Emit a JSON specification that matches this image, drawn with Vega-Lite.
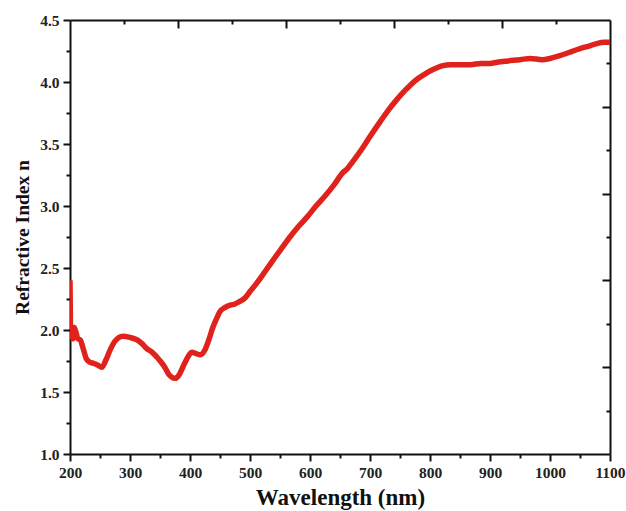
{
  "$schema": "https://vega.github.io/schema/vega-lite/v6.json",
  "width": 540,
  "height": 434,
  "autosize": "none",
  "padding": {"left": 70, "top": 20, "right": 16, "bottom": 57},
  "background": "white",
  "config": {
    "view": {"stroke": null},
    "axis": {
      "labelFont": "Liberation Serif",
      "titleFont": "Liberation Serif",
      "labelFontWeight": "bold",
      "titleFontWeight": "bold",
      "labelColor": "#222",
      "titleColor": "#111",
      "domainColor": "#111",
      "tickColor": "#111",
      "domainWidth": 2,
      "tickWidth": 2,
      "labelFlush": false,
      "labelBound": false,
      "grid": false
    }
  },
  "data": {"values": [
    {"wl": 200, "n": 2.40}, {"wl": 200.5, "n": 2.15}, {"wl": 201, "n": 1.95}, {"wl": 203, "n": 2.02},
    {"wl": 205, "n": 1.93}, {"wl": 207, "n": 2.02}, {"wl": 210, "n": 1.98}, {"wl": 213, "n": 1.93},
    {"wl": 217, "n": 1.92}, {"wl": 222, "n": 1.85}, {"wl": 227, "n": 1.77}, {"wl": 233, "n": 1.74},
    {"wl": 240, "n": 1.73}, {"wl": 245, "n": 1.72}, {"wl": 253, "n": 1.70}, {"wl": 260, "n": 1.76},
    {"wl": 267, "n": 1.84}, {"wl": 275, "n": 1.91}, {"wl": 288, "n": 1.95}, {"wl": 300, "n": 1.94},
    {"wl": 312, "n": 1.92}, {"wl": 320, "n": 1.89}, {"wl": 328, "n": 1.85}, {"wl": 337, "n": 1.82},
    {"wl": 345, "n": 1.78}, {"wl": 352, "n": 1.74}, {"wl": 358, "n": 1.70}, {"wl": 365, "n": 1.64},
    {"wl": 375, "n": 1.61}, {"wl": 382, "n": 1.64}, {"wl": 388, "n": 1.70}, {"wl": 395, "n": 1.77},
    {"wl": 403, "n": 1.82}, {"wl": 410, "n": 1.81}, {"wl": 417, "n": 1.80}, {"wl": 425, "n": 1.84},
    {"wl": 432, "n": 1.93}, {"wl": 438, "n": 2.02}, {"wl": 445, "n": 2.10}, {"wl": 450, "n": 2.15},
    {"wl": 458, "n": 2.18}, {"wl": 467, "n": 2.20}, {"wl": 475, "n": 2.21}, {"wl": 483, "n": 2.23},
    {"wl": 492, "n": 2.26}, {"wl": 500, "n": 2.31}, {"wl": 510, "n": 2.37}, {"wl": 522, "n": 2.45},
    {"wl": 535, "n": 2.54}, {"wl": 550, "n": 2.64}, {"wl": 565, "n": 2.74}, {"wl": 580, "n": 2.83},
    {"wl": 595, "n": 2.91}, {"wl": 610, "n": 3.00}, {"wl": 625, "n": 3.08}, {"wl": 640, "n": 3.17},
    {"wl": 655, "n": 3.27}, {"wl": 662, "n": 3.30}, {"wl": 670, "n": 3.35}, {"wl": 685, "n": 3.45},
    {"wl": 700, "n": 3.56}, {"wl": 717, "n": 3.68}, {"wl": 730, "n": 3.77}, {"wl": 745, "n": 3.86},
    {"wl": 760, "n": 3.94}, {"wl": 775, "n": 4.01}, {"wl": 790, "n": 4.06}, {"wl": 805, "n": 4.10},
    {"wl": 820, "n": 4.13}, {"wl": 835, "n": 4.14}, {"wl": 850, "n": 4.14}, {"wl": 867, "n": 4.14},
    {"wl": 885, "n": 4.15}, {"wl": 900, "n": 4.15}, {"wl": 912, "n": 4.16}, {"wl": 930, "n": 4.17},
    {"wl": 950, "n": 4.18}, {"wl": 967, "n": 4.19}, {"wl": 987, "n": 4.18}, {"wl": 1000, "n": 4.19},
    {"wl": 1015, "n": 4.21}, {"wl": 1033, "n": 4.24}, {"wl": 1050, "n": 4.27}, {"wl": 1065, "n": 4.29},
    {"wl": 1078, "n": 4.31}, {"wl": 1090, "n": 4.32}, {"wl": 1100, "n": 4.32}
  ]},
  "layer": [
    {
      "mark": {"type": "line", "color": "#e0221c", "strokeWidth": 5.5, "interpolate": "monotone", "clip": true},
      "encoding": {
        "x": {
          "field": "wl", "type": "quantitative",
          "scale": {"domain": [200, 1100], "nice": false, "zero": false},
          "axis": {
            "orient": "bottom",
            "title": "Wavelength (nm)",
            "titleFontSize": 23,
            "titlePadding": 6,
            "labelFontSize": 15.5,
            "labelPadding": 4,
            "values": [200, 250, 300, 350, 400, 450, 500, 550, 600, 650, 700, 750, 800, 850, 900, 950, 1000, 1050, 1100],
            "labelExpr": "datum.value % 100 === 0 ? datum.label : ''",
            "format": "d",
            "labelOverlap": false,
            "tickSize": {"condition": {"test": "datum.value % 100 === 0", "value": 7}, "value": 4}
          }
        },
        "y": {
          "field": "n", "type": "quantitative",
          "scale": {"domain": [1.0, 4.5], "nice": false, "zero": false},
          "axis": {
            "orient": "left",
            "title": "Refractive Index n",
            "titleFontSize": 19.5,
            "titlePadding": 7,
            "labelFontSize": 15.5,
            "labelPadding": 4,
            "values": [1.0, 1.25, 1.5, 1.75, 2.0, 2.25, 2.5, 2.75, 3.0, 3.25, 3.5, 3.75, 4.0, 4.25, 4.5],
            "format": ".1f",
            "labelExpr": "round(datum.value * 100) % 50 === 0 ? datum.label : ''",
            "labelOverlap": false,
            "tickSize": {"condition": {"test": "round(datum.value * 100) % 50 === 0", "value": 7}, "value": 4}
          }
        }
      }
    },
    {
      "mark": {"type": "line", "opacity": 0},
      "encoding": {
        "x": {
          "field": "wl", "type": "quantitative",
          "axis": {
            "orient": "top",
            "title": null,
            "labels": false,
            "values": [290, 380, 470, 560, 650, 740, 830, 920, 1010],
            "tickSize": {"condition": {"test": "(round(datum.value) - 290) % 180 === 90", "value": -8}, "value": -4}
          }
        },
        "y": {
          "field": "n", "type": "quantitative",
          "axis": {
            "orient": "right",
            "title": null,
            "labels": false,
            "values": [1.35, 1.70, 2.05, 2.40, 2.75, 3.10, 3.45, 3.80, 4.15],
            "tickSize": {"condition": {"test": "round(datum.value * 100) % 70 === 30", "value": -8}, "value": -4}
          }
        }
      }
    }
  ],
  "resolve": {"axis": {"x": "independent", "y": "independent"}}
}
